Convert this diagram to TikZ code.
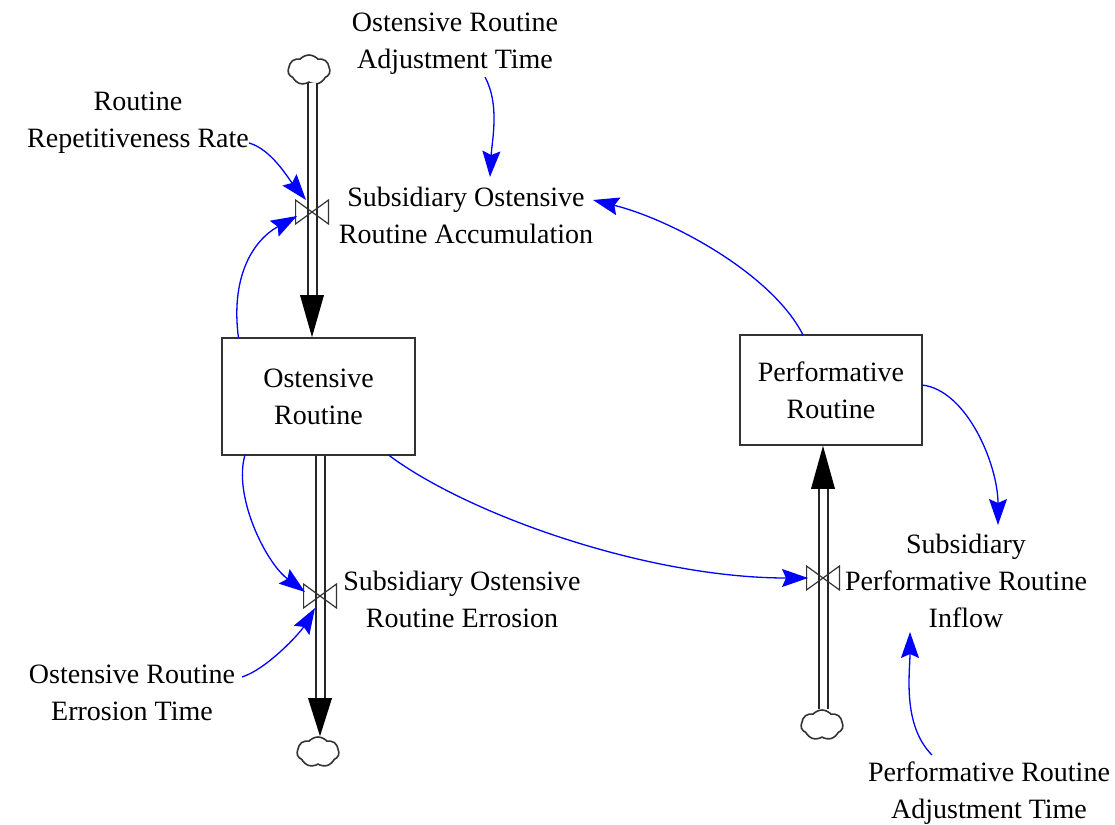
\documentclass[tikz,border=0pt]{standalone}
\usepackage{fontspec}
\setmainfont{Liberation Serif}
\usetikzlibrary{shapes.symbols,arrows.meta,calc}
\definecolor{linkblue}{RGB}{0,0,255}
\begin{document}
\begin{tikzpicture}[x=0.5pt,y=-0.5pt,
  lbl/.style={align=center, font=\fontsize{14pt}{18.5pt}\selectfont, inner sep=0pt},
  level/.style={draw=black!80, line width=0.8pt, fill=white, minimum width=96.5pt, minimum height=58.5pt, align=center, inner sep=0pt, font=\fontsize{14pt}{18.5pt}\selectfont},
  cloudn/.style={cloud, cloud puffs=7, cloud puff arc=100, aspect=1.4, draw=black!80, line width=0.8pt, minimum width=21pt, minimum height=15pt, inner sep=0pt},
  valven/.style={minimum width=16pt, minimum height=11.5pt, inner sep=0pt},
  valveline/.style={draw=black!80, line width=0.6pt},
  pipe/.style={draw=black!85, line width=1pt, double=white, double distance=3.5pt},
  pipetip/.style={fill=black},
  link/.style={draw=linkblue, line width=0.65pt, -{Stealth[length=13pt,width=9pt,inset=2pt]}, linkblue},
]
\useasboundingbox[fill=white] (0,0) rectangle (1115,825);

% stocks
\node[level] (ost) at (318.5,396.5) {Ostensive\\Routine};
\node[level, minimum width=91pt, minimum height=55pt] (perf) at (831,390) {Performative\\Routine};

% clouds
\node[cloudn] (cloud1) at (309,70) {};
\node[cloudn] (cloud2) at (318,752) {};
\node[cloudn] (cloud3) at (822,725) {};

% valves
\node[valven] (v1) at (312,212) {};
\node[valven] (v2) at (320,596) {};
\node[valven] (v3) at (823,578) {};

% labels
\node[lbl] (tadj) at (455,44) {Ostensive Routine\\Adjustment Time};
\node[lbl] (trep) at (138,123) {Routine\\Repetitiveness Rate};
\node[lbl] (tacc) at (466,215) {Subsidiary Ostensive\\Routine Accumulation};
\node[lbl] (tero) at (462,599) {Subsidiary Ostensive\\Routine Errosion};
\node[lbl] (tinf) at (966,581) {Subsidiary\\Performative Routine\\Inflow};
\node[lbl] (terot) at (132,693) {Ostensive Routine\\Errosion Time};
\node[lbl] (tpadj) at (989,793) {Performative Routine\\Adjustment Time};

% pipes
\coordinate (tip1) at (ost.north -| v1);
\coordinate (tip2) at (cloud2.north -| v2);
\coordinate (tip3) at (perf.south -| v3);
\draw[pipe] (v1 |- cloud1.south) -- ($(tip1)+(0,-40)$);
\fill[pipetip] (tip1) -- ++(-12,-42) -- ++(24,0) -- cycle;
\draw[pipe] (ost.south -| v2) -- ($(tip2)+(0,-36)$);
\fill[pipetip] (tip2) -- ++(-12,-38) -- ++(24,0) -- cycle;
\draw[pipe] (v3 |- cloud3.north) -- ($(tip3)+(0,41)$);
\fill[pipetip] (tip3) -- ++(-12,43) -- ++(24,0) -- cycle;

% valve symbols
\draw[valveline] (v1.south west) -- (v1.north east) -- (v1.south east) -- (v1.north west) -- cycle;
\draw[valveline] (v2.south west) -- (v2.north east) -- (v2.south east) -- (v2.north west) -- cycle;
\draw[valveline] (v3.south west) -- (v3.north east) -- (v3.south east) -- (v3.north west) -- cycle;

% links
\draw[link] ($(tadj)+(30,33)$) .. controls +(15,28) and +(2,-37) .. ($(tacc)+(24,-38)$);
\draw[link] ($(trep)+(111,20)$) .. controls +(22,6) and +(-18,-22) .. ($(v1)+(-6,-12)$);
\draw[link] ($(ost)+(-80,-58.5)$) .. controls +(-8,-60) and +(-45,25) .. ($(v1)+(-15,4)$);
\draw[link] ($(perf)+(-28,-55)$) .. controls +(-30,-60) and +(80,20) .. ($(tacc)+(127,-15)$);
\draw[link] ($(perf)+(91,-5)$) .. controls +(45,5) and +(0,-60) .. ($(tinf)+(32,-56)$);
\draw[link] ($(ost)+(70,58.5)$) .. controls +(80,60) and +(-160,0) .. ($(v3)+(-15,0)$);
\draw[link] ($(ost)+(-73.5,58.5)$) .. controls +(-12,40) and +(-40,-30) .. ($(v2)+(-15,-4)$);
\draw[link] ($(terot)+(110,-16)$) .. controls +(25,-8) and +(-15,25) .. ($(v2)+(-5,12)$);
\draw[link] ($(tpadj)+(-57,-38)$) .. controls +(-30,-30) and +(0,40) .. ($(tinf)+(-56,51)$);
\end{tikzpicture}
\end{document}
